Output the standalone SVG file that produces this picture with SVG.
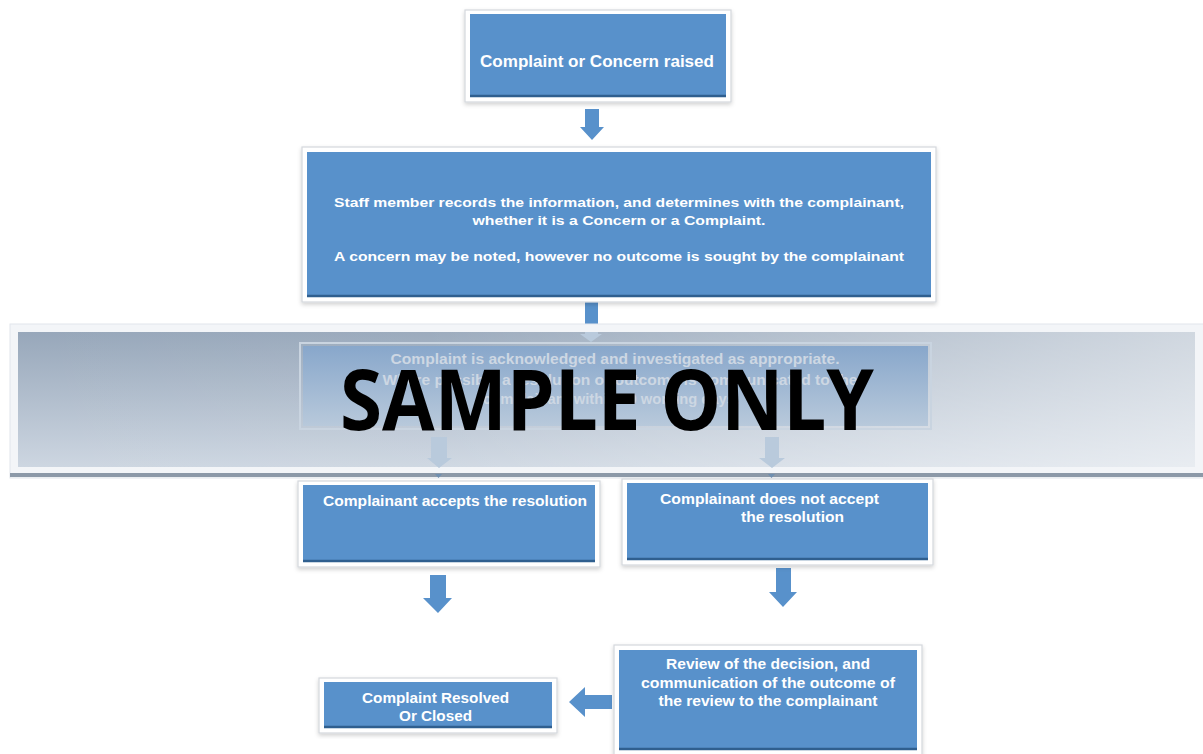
<svg xmlns="http://www.w3.org/2000/svg" width="1203" height="754" viewBox="0 0 1203 754">
<defs>
<style>
.frame{fill:#ffffff;stroke:#d4d8dd;stroke-width:1.2}
.box{fill:#5891cb}
.edge{stroke:#2f5f8f;stroke-width:2.5}
.t{font-family:"Liberation Sans",Arial,sans-serif;font-weight:bold;fill:#ffffff;text-anchor:middle}
.arr{fill:#5891cb}
.fade{fill:#b9cadc}
.ft{font-family:"Liberation Sans",Arial,sans-serif;font-weight:bold;fill:#cdd7e3;text-anchor:middle;font-size:14px}
</style>
<linearGradient id="bannerV" x1="0" y1="0" x2="0" y2="1">
<stop offset="0" stop-color="#97a7ba"/>
<stop offset="1" stop-color="#cdd6e1"/>
</linearGradient>
<linearGradient id="bannerH" x1="0" y1="0" x2="1" y2="0">
<stop offset="0" stop-color="#ffffff" stop-opacity="0"/>
<stop offset="0.35" stop-color="#ffffff" stop-opacity="0.05"/>
<stop offset="1" stop-color="#ffffff" stop-opacity="0.55"/>
</linearGradient>
<linearGradient id="box3g" x1="0" y1="0" x2="0" y2="1">
<stop offset="0" stop-color="#88a7cb"/>
<stop offset="1" stop-color="#b8c9db"/>
</linearGradient>
<filter id="sh" x="-5%" y="-5%" width="110%" height="115%">
<feDropShadow dx="0" dy="2" stdDeviation="2" flood-color="#000000" flood-opacity="0.18"/>
</filter>
</defs>
<rect width="1203" height="754" fill="#ffffff"/>

<g id="connectors">
<path id="a1" class="arr" d="M585,109 H599 V127 H604 L592,140 L580,127 H585 Z"/>
<path id="a2" class="arr" d="M585,302 H598 V330 H585 Z"/>
<path id="a5" class="arr" d="M430,575 H446 V598 H452 L438,613 L423,598 H430 Z"/>
<path id="a6" class="arr" d="M776,568 H791 V592 H797 L783,607 L769,592 H776 Z"/>
<path id="a7" class="arr" d="M612,695 V709 H585 V717 L569,702 L585,687 V695 Z"/>
</g>

<g id="n1">
<rect class="frame" x="465" y="10" width="266" height="92" filter="url(#sh)"/>
<rect class="box" x="470" y="14" width="256" height="83"/>
<line class="edge" x1="470" y1="96" x2="726" y2="96"/>
<text class="t" x="597" y="67" font-size="16" textLength="234" lengthAdjust="spacingAndGlyphs">Complaint or Concern raised</text>
</g>

<g id="n2">
<rect class="frame" x="302" y="147" width="634" height="155" filter="url(#sh)"/>
<rect class="box" x="307" y="152" width="624" height="145"/>
<line class="edge" x1="307" y1="296" x2="931" y2="296"/>
<text class="t" x="619" y="207" font-size="13.5" textLength="570" lengthAdjust="spacingAndGlyphs">Staff member records the information, and determines with the complainant,</text>
<text class="t" x="619" y="225" font-size="13.5" textLength="293" lengthAdjust="spacingAndGlyphs">whether it is a Concern or a Complaint.</text>
<text class="t" x="619" y="261" font-size="13.5" textLength="570" lengthAdjust="spacingAndGlyphs">A concern may be noted, however no outcome is sought by the complainant</text>
</g>

<g id="banner">
<rect x="10" y="324" width="1200" height="154" fill="#f3f5f8" stroke="#e2e6eb" stroke-width="1"/>
<rect x="18" y="332" width="1177" height="135" fill="url(#bannerV)"/>
<rect x="18" y="332" width="1177" height="135" fill="url(#bannerH)"/>
<rect x="10" y="473" width="1200" height="4" fill="#8c99a8"/>
</g>

<g id="n3">
<rect x="300" y="343" width="631" height="86" fill="none" stroke="#c9d4e0" stroke-width="2"/>
<rect x="303" y="346" width="625" height="80" fill="url(#box3g)"/>
<text class="ft" x="615" y="364" textLength="449" lengthAdjust="spacingAndGlyphs">Complaint is acknowledged and investigated as appropriate.</text>
<text class="ft" x="620" y="385" textLength="475" lengthAdjust="spacingAndGlyphs">Where possible a resolution or outcome is communicated to the</text>
<text class="ft" x="611" y="404" textLength="256" lengthAdjust="spacingAndGlyphs">complainant within 20 working days.</text>
</g>

<g id="faded-connectors">
<path class="fade" d="M585,332 H598 V334 H602 L591,342 L580,334 H585 Z"/>
<path class="fade" d="M431,437 H447 V458 H452 L439,468 L427,458 H431 Z"/>
<path class="fade" d="M765,437 H779 V458 H785 L772,468 L759,458 H765 Z"/>
<path fill="#6f8fb0" d="M435,474 H442 L438.5,478 Z"/>
<path fill="#6f8fb0" d="M768,474 H775 L771.5,478 Z"/>
</g>

<text id="watermark" x="607" y="430" font-family="'Open Sans','Liberation Sans',sans-serif" font-weight="bold" font-size="84" fill="#000000" text-anchor="middle" textLength="534" lengthAdjust="spacingAndGlyphs">SAMPLE ONLY</text>

<g id="n4">
<rect class="frame" x="298" y="481" width="302" height="86" filter="url(#sh)"/>
<rect class="box" x="303" y="485" width="292" height="77"/>
<line class="edge" x1="303" y1="561" x2="595" y2="561"/>
<text class="t" x="455" y="506" font-size="15" textLength="264" lengthAdjust="spacingAndGlyphs">Complainant accepts the resolution</text>
</g>

<g id="n5">
<rect class="frame" x="622" y="479" width="311" height="86" filter="url(#sh)"/>
<rect class="box" x="627" y="483" width="301" height="77"/>
<line class="edge" x1="627" y1="559" x2="928" y2="559"/>
<text class="t" x="769.5" y="504" font-size="15.5" textLength="219" lengthAdjust="spacingAndGlyphs">Complainant does not accept</text>
<text class="t" x="792.5" y="522" font-size="15.5" textLength="103" lengthAdjust="spacingAndGlyphs">the resolution</text>
</g>

<g id="n6">
<rect class="frame" x="614" y="645" width="308" height="110" filter="url(#sh)"/>
<rect class="box" x="619" y="650" width="298" height="100"/>
<line class="edge" x1="619" y1="749" x2="917" y2="749"/>
<text class="t" x="768" y="669" font-size="15.5" textLength="204" lengthAdjust="spacingAndGlyphs">Review of the decision, and</text>
<text class="t" x="768" y="688" font-size="15.5" textLength="254" lengthAdjust="spacingAndGlyphs">communication of the outcome of</text>
<text class="t" x="768" y="706" font-size="15.5" textLength="219" lengthAdjust="spacingAndGlyphs">the review to the complainant</text>
</g>

<g id="n7">
<rect class="frame" x="319" y="678" width="238" height="55" filter="url(#sh)"/>
<rect class="box" x="324" y="682" width="228" height="46"/>
<line class="edge" x1="324" y1="727" x2="552" y2="727"/>
<text class="t" x="435.5" y="703" font-size="15" textLength="147" lengthAdjust="spacingAndGlyphs">Complaint Resolved</text>
<text class="t" x="435.5" y="721" font-size="15" textLength="73" lengthAdjust="spacingAndGlyphs">Or Closed</text>
</g>
</svg>
